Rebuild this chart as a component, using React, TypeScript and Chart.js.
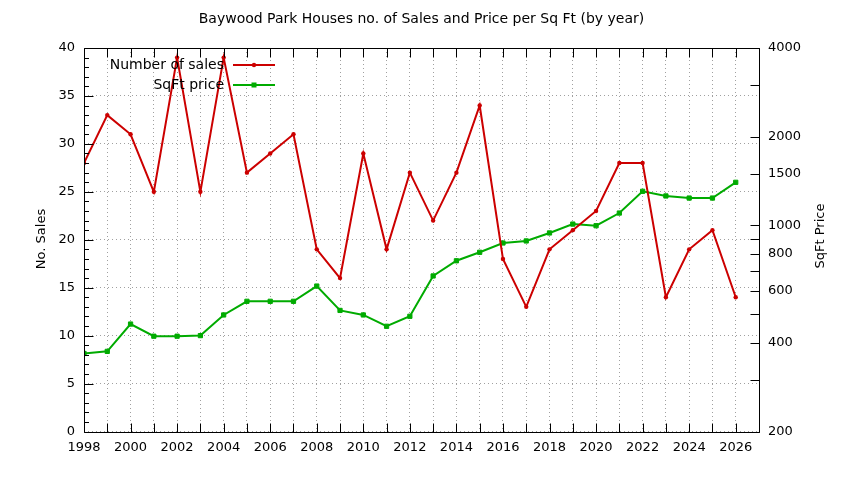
import React, { useEffect, useRef } from 'react';
import { Chart, registerables } from 'chart.js';

Chart.register(...registerables);

const years = [1998, 1999, 2000, 2001, 2002, 2003, 2004, 2005, 2006, 2007, 2008, 2009, 2010, 2011, 2012, 2013, 2014, 2015, 2016, 2017, 2018, 2019, 2020, 2021, 2022, 2023, 2024, 2025, 2026];
const numberOfSales = [28, 33, 31, 25, 39, 25, 39, 27, 29, 31, 19, 16, 29, 19, 27, 22, 27, 34, 18, 13, 19, 21, 23, 28, 28, 14, 19, 21, 14];
const sqftPrice = [368, 374, 463, 421, 421, 423, 497, 553, 553, 553, 623, 515, 497, 455, 492, 674, 759, 811, 872, 886, 943, 1011, 998, 1102, 1306, 1259, 1239, 1239, 1401];

const xMin = 1998;
const xMax = 2027;
const xLabelLast = 2026;
const salesMin = 0;
const salesMax = 40;
const salesStep = 5;
const priceMin = 200;
const priceMax = 4000;
const priceTickValues = [200, 300, 400, 500, 600, 700, 800, 900, 1000, 1500, 2000, 3000, 4000];
const priceTickLabels = [200, 400, 600, 800, 1000, 1500, 2000, 4000];

const titleText = 'Baywood Park Houses no. of Sales and Price per Sq Ft (by year)';
const salesLabel = 'Number of sales';
const priceLabel = 'SqFt price';
const leftAxisTitle = 'No. Sales';
const rightAxisTitle = 'SqFt Price';

const RED = '#cc0000';
const GREEN = '#00ab00';
const FONT = 'DejaVu Sans';

const decor = {
  id: 'gnuplotDecor',
  afterDraw(chart: any) {
    const { ctx, chartArea: a, scales } = chart;
    const xs = scales.x, ys = scales.y, y2 = scales.y2;
    ctx.save();
    ctx.strokeStyle = '#000';
    ctx.lineWidth = 1;
    ctx.beginPath();
    const L = Math.round(a.left) + 0.5, R = Math.round(a.right) + 0.5;
    const T = Math.round(a.top) + 0.5, B = Math.round(a.bottom) + 0.5;
    ctx.rect(L, T, R - L, B - T);
    for (let yr = xMin; yr <= xMax; yr++) {
      const px = Math.round(xs.getPixelForValue(yr)) + 0.5;
      ctx.moveTo(px, B); ctx.lineTo(px, B - 9);
      ctx.moveTo(px, T); ctx.lineTo(px, T + 9);
    }
    for (let v = salesMin; v <= salesMax; v++) {
      const py = Math.round(ys.getPixelForValue(v)) + 0.5;
      const len = v % salesStep === 0 ? 9 : 4.5;
      ctx.moveTo(L, py); ctx.lineTo(L + len, py);
    }
    priceTickValues.forEach((v) => {
      const py = Math.round(y2.getPixelForValue(v)) + 0.5;
      ctx.moveTo(R, py); ctx.lineTo(R - 9, py);
    });
    ctx.stroke();

    ctx.fillStyle = '#000';
    ctx.font = `14px "${FONT}"`;
    ctx.textAlign = 'center';
    ctx.textBaseline = 'middle';
    ctx.fillText(titleText, (a.left + a.right) / 2, 19);

    ctx.font = `13px "${FONT}"`;
    ctx.save();
    ctx.translate(42, 239);
    ctx.rotate(-Math.PI / 2);
    ctx.fillText(leftAxisTitle, 0, 0);
    ctx.restore();
    ctx.save();
    ctx.translate(821, 236);
    ctx.rotate(-Math.PI / 2);
    ctx.fillText(rightAxisTitle, 0, 0);
    ctx.restore();

    // legend
    ctx.font = `14px "${FONT}"`;
    const rows = [
      { label: salesLabel, color: RED, y: 65, marker: 'dot' },
      { label: priceLabel, color: GREEN, y: 85, marker: 'box' },
    ];
    rows.forEach((r) => {
      ctx.textAlign = 'right';
      ctx.fillStyle = '#000';
      ctx.fillText(r.label, 224, r.y);
      ctx.strokeStyle = r.color;
      ctx.lineWidth = 2;
      ctx.beginPath();
      ctx.moveTo(233, r.y); ctx.lineTo(275, r.y);
      ctx.stroke();
      ctx.fillStyle = r.color;
      if (r.marker === 'dot') {
        ctx.beginPath(); ctx.arc(254, r.y, 2.2, 0, Math.PI * 2); ctx.fill();
      } else {
        ctx.fillRect(251.5, r.y - 2.5, 5, 5);
      }
    });
    ctx.restore();
  },
};

export default function App() {
  const ref = useRef<HTMLCanvasElement>(null);
  useEffect(() => {
    const chart = new Chart(ref.current!, {
      type: 'line',
      data: {
        datasets: [
          {
            label: salesLabel,
            data: years.map((yr, i) => ({ x: yr, y: numberOfSales[i] })),
            yAxisID: 'y',
            borderColor: RED,
            backgroundColor: RED,
            borderWidth: 2,
            pointRadius: 2.2,
            pointStyle: 'circle',
            pointBorderWidth: 0,
            tension: 0,
          },
          {
            label: priceLabel,
            data: years.map((yr, i) => ({ x: yr, y: sqftPrice[i] })),
            yAxisID: 'y2',
            borderColor: GREEN,
            backgroundColor: GREEN,
            borderWidth: 2,
            pointRadius: 3,
            pointStyle: 'rect',
            pointBorderWidth: 1,
            tension: 0,
          },
        ],
      },
      options: {
        animation: false,
        responsive: false,
        devicePixelRatio: 1,
        layout: { padding: { top: 48, left: 0, right: 0, bottom: 0 } },
        plugins: { legend: { display: false }, title: { display: false }, tooltip: { enabled: false } },
        scales: {
          x: {
            type: 'linear',
            min: xMin,
            max: xMax,
            afterFit: (s: any) => { s.height = 48.5; },
            ticks: {
              stepSize: 1,
              autoSkip: false,
              maxRotation: 0,
              padding: 8,
              color: '#000',
              font: { family: FONT, size: 13 },
              callback: (v: any) => (v % 2 === 0 && v <= xLabelLast ? String(v) : ''),
            },
            grid: { color: '#a0a0a0', lineWidth: 1, drawTicks: false },
            border: { display: false, dash: [1, 3] },
          },
          y: {
            type: 'linear',
            position: 'left',
            min: salesMin,
            max: salesMax,
            afterFit: (s: any) => { s.width = 84; },
            ticks: {
              stepSize: salesStep,
              padding: 9,
              color: '#000',
              font: { family: FONT, size: 13 },
            },
            grid: { color: '#a0a0a0', lineWidth: 1, drawTicks: false },
            border: { display: false, dash: [1, 3] },
          },
          y2: {
            type: 'logarithmic',
            position: 'right',
            min: priceMin,
            max: priceMax,
            afterFit: (s: any) => { s.width = 85; },
            afterBuildTicks: (s: any) => { s.ticks = priceTickValues.map((v) => ({ value: v })); },
            ticks: {
              padding: 9,
              autoSkip: false,
              color: '#000',
              font: { family: FONT, size: 13 },
              callback: (v: any) => (priceTickLabels.includes(Number(v)) ? String(v) : ''),
            },
            grid: { display: false, drawTicks: false },
            border: { display: false },
          },
        },
      },
      plugins: [decor],
    } as any);
    return () => chart.destroy();
  }, []);
  return (
    <div style={{ position: 'absolute', left: 0, top: 0, width: 844, height: 480, background: '#fff' }}>
      <canvas ref={ref} width={844} height={480} style={{ width: 844, height: 480, display: 'block' }} />
    </div>
  );
}
